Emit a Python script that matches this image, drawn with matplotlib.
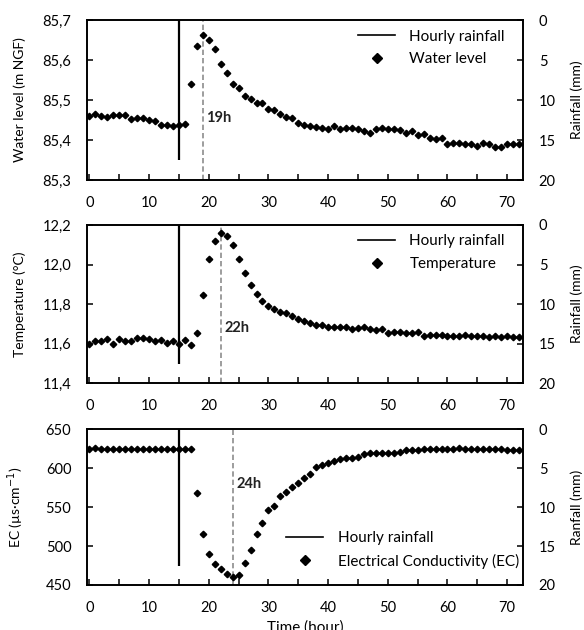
import numpy as np
import matplotlib
matplotlib.use("Agg")
import matplotlib.pyplot as plt
from matplotlib.ticker import FuncFormatter, MultipleLocator
from matplotlib.lines import Line2D

plt.rcParams['font.family'] = ['Lato', 'DejaVu Sans']

hours = np.arange(0, 73)

water_level = [
    85.461, 85.466, 85.461, 85.458, 85.463, 85.462, 85.463, 85.452, 85.456, 85.456,
    85.449, 85.447, 85.437, 85.437, 85.434, 85.438, 85.441, 85.539, 85.635, 85.663,
    85.650, 85.628, 85.591, 85.567, 85.540, 85.530, 85.511, 85.503, 85.493, 85.493,
    85.477, 85.474, 85.466, 85.457, 85.456, 85.442, 85.437, 85.435, 85.433, 85.429,
    85.427, 85.435, 85.427, 85.430, 85.430, 85.428, 85.423, 85.417, 85.428, 85.429,
    85.427, 85.427, 85.425, 85.418, 85.423, 85.413, 85.415, 85.404, 85.402, 85.404,
    85.389, 85.393, 85.392, 85.389, 85.389, 85.386, 85.393, 85.390, 85.383, 85.383,
    85.390, 85.390, 85.390,
]

temperature = [
    11.599, 11.616, 11.614, 11.622, 11.599, 11.624, 11.614, 11.614, 11.627, 11.627,
    11.622, 11.614, 11.619, 11.602, 11.614, 11.599, 11.619, 11.594, 11.656, 11.846,
    12.028, 12.121, 12.158, 12.144, 12.099, 12.028, 11.959, 11.897, 11.850, 11.816,
    11.791, 11.776, 11.761, 11.754, 11.738, 11.726, 11.715, 11.707, 11.695, 11.695,
    11.686, 11.686, 11.683, 11.683, 11.673, 11.678, 11.683, 11.673, 11.669, 11.673,
    11.652, 11.657, 11.657, 11.654, 11.654, 11.657, 11.637, 11.644, 11.644, 11.644,
    11.640, 11.640, 11.640, 11.644, 11.640, 11.640, 11.640, 11.636, 11.640, 11.632,
    11.637, 11.636, 11.636,
]

conductivity = [
    624.3, 625.6, 624.3, 625.0, 625.3, 625.0, 625.3, 625.0, 625.3, 625.0,
    625.3, 625.0, 625.3, 625.0, 625.3, 625.0, 625.3, 625.0, 567.8, 515.1,
    489.8, 477.4, 470.1, 464.1, 460.7, 462.8, 477.8, 495.0, 515.1, 530.1,
    546.4, 551.9, 564.3, 569.0, 576.0, 580.5, 587.0, 592.6, 601.2, 604.2,
    606.3, 609.7, 611.5, 612.7, 613.6, 614.9, 617.9, 619.2, 619.2, 620.0,
    620.0, 620.0, 621.3, 623.4, 623.4, 623.4, 624.3, 624.3, 624.3, 624.3,
    624.3, 624.3, 625.6, 624.3, 624.3, 624.3, 624.3, 624.3, 624.3, 624.3,
    623.4, 623.4, 623.4,
]

rain_hours = [15]
rain_mm = [17.5]

panels = [
    dict(values=water_level, ylabel="Water level (m NGF)", name="Water level",
         ylim=(85.3, 85.7), ystep=0.1, fmt=lambda v, p: f"{v:.1f}".replace(".", ","),
         peak="max", rain_label="Rainfall (mm)", legend_loc="upper", label_y=85.455),
    dict(values=temperature, ylabel="Temperature (°C)", name="Temperature",
         ylim=(11.4, 12.2), ystep=0.2, fmt=lambda v, p: f"{v:.1f}".replace(".", ","),
         peak="max", rain_label="Rainfall (mm)", legend_loc="upper", label_y=11.678),
    dict(values=conductivity, ylabel="EC (µs·cm$^{-1}$)", name="Electrical Conductivity (EC)",
         ylim=(450, 650), ystep=50, fmt=lambda v, p: f"{v:.0f}",
         peak="min", rain_label="Ranfall (mm)", legend_loc="lower", label_y=580),
]

fig = plt.figure(figsize=(5.84, 6.30), dpi=100)
W, H = 584, 630
boxes = [(20, 180), (225, 383.3), (429.3, 585)]
left_px, right_px = 87.3, 522.7

FS = 10.5
LFS = 11
for spec, (top_px, bot_px) in zip(panels, boxes):
    ax = fig.add_axes([left_px / W, 1 - bot_px / H, (right_px - left_px) / W,
                       (bot_px - top_px) / H])
    ax2 = ax.twinx()

    vals = np.asarray(spec["values"])
    idx = np.argmax(vals) if spec["peak"] == "max" else np.argmin(vals)
    peak_hour = int(hours[idx])

    ax.axvline(peak_hour, color="#8c8c8c", lw=1.2, ls=(0, (3.2, 1.8)), zorder=1)
    ax.plot(hours, vals, ls="none", marker="D", ms=3.3, color="black", zorder=3)
    ax.text(peak_hour + 0.6, spec["label_y"], f"{peak_hour}h", fontsize=FS,
            fontweight="bold", va="center", ha="left", color="#222222")

    ax2.vlines(rain_hours, 0, rain_mm, colors="black", lw=1.6)

    ax.set_xlim(-0.35, 72.6)
    ax.set_ylim(*spec["ylim"])
    ax.xaxis.set_major_locator(MultipleLocator(10))
    ax.xaxis.set_minor_locator(MultipleLocator(5))
    ax.yaxis.set_major_locator(MultipleLocator(spec["ystep"]))
    ax.yaxis.set_major_formatter(FuncFormatter(spec["fmt"]))

    ax2.set_ylim(20, 0)
    ax2.yaxis.set_major_locator(MultipleLocator(5))

    for a in (ax, ax2):
        a.tick_params(which="both", direction="in", length=4, width=1.1,
                      labelsize=FS, colors="black", pad=11.5)
        for s in a.spines.values():
            s.set_linewidth(1.2)

    ax.set_ylabel(spec["ylabel"], fontsize=10)
    ax.yaxis.set_label_coords(-0.141, 0.5)
    ax2.set_ylabel(spec["rain_label"], fontsize=10)
    ax2.yaxis.set_label_coords(1.109, 0.5)

    handles = [Line2D([], [], color="black", lw=1.2),
               Line2D([], [], ls="none", marker="D", ms=5, color="black")]
    labels = ["Hourly rainfall", spec["name"]]
    common = dict(frameon=False, fontsize=LFS, handlelength=2.4, handletextpad=0.95,
                  labelspacing=0.55, borderpad=0, borderaxespad=0)
    if spec["legend_loc"] == "upper":
        ax2.legend(handles, labels, loc="upper right", bbox_to_anchor=(0.959, 0.94),
                   **common)
    else:
        ax2.legend(handles, labels, loc="lower right", bbox_to_anchor=(0.991, 0.105),
                   **common)

fig.text((left_px + right_px) / 2 / W, 1 - 620 / H, "Time (hour)", fontsize=LFS,
         ha="center", va="top")

fig.savefig("out.png", dpi=100)
